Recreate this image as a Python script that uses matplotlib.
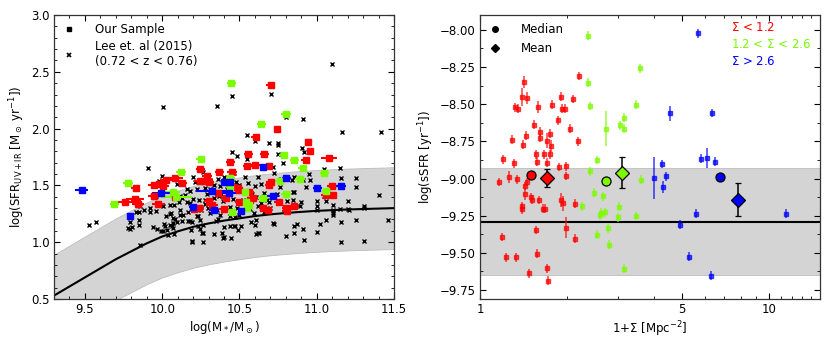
import numpy as np
import matplotlib
matplotlib.use("Agg")
import matplotlib.pyplot as plt
from matplotlib.ticker import AutoMinorLocator, FixedLocator, NullFormatter, ScalarFormatter
from matplotlib.lines import Line2D

plt.rcParams['font.family'] = ['DejaVu Sans']
plt.rcParams['font.size'] = 8.5
plt.rcParams['mathtext.default'] = 'regular'

# ---------------- Left panel data ----------------
# Main-sequence curve and band half-width
ms_x = [9.3, 9.4, 9.5, 9.6, 9.7, 9.8, 9.9, 10.0, 10.1, 10.2, 10.3, 10.4, 10.5,
        10.6, 10.7, 10.8, 10.9, 11.0, 11.2, 11.5]
ms_y = [0.53, 0.61, 0.69, 0.77, 0.85, 0.92, 0.99, 1.05, 1.095, 1.135, 1.165, 1.19,
        1.21, 1.23, 1.245, 1.257, 1.267, 1.276, 1.288, 1.30]
ms_scatter = 0.36

# Lee et al. (2015) galaxies
lee_x = [10.007, 9.911, 10.0, 9.98, 9.528, 9.572, 9.793, 9.778, 9.804, 9.852, 9.852, 9.924,
         9.92, 9.941, 9.967, 9.993, 10.007, 10.013, 10.02, 10.052, 10.076, 10.083, 10.065,
         10.039, 10.074, 9.854, 10.098, 10.196, 10.133, 10.163, 10.354, 10.45, 10.702, 11.1,
         10.911, 11.165, 11.415, 10.798, 10.552, 10.602, 10.693, 10.752, 10.752, 10.45, 10.485,
         10.752, 10.78, 10.72, 10.904, 10.917, 10.95, 11.152, 11.257, 11.257, 11.404, 11.202,
         11.152, 11.202, 11.304, 11.254, 11.46, 11.304, 11.157, 11.157, 11.104, 11.104, 11.061,
         11.024, 11.0, 10.919, 10.909, 10.854, 10.85, 10.804, 10.722, 10.848, 10.898, 11.004,
         11.004, 11.004, 11.048, 10.891, 10.846, 10.593, 10.604, 10.62, 10.61, 10.572, 10.507,
         10.491, 10.463, 10.448, 10.387, 10.393, 10.333, 10.263, 10.246, 10.23, 10.196, 10.187,
         10.165, 10.126, 10.115, 10.072, 10.05, 10.024, 10.028, 10.007, 9.959, 9.883, 9.854,
         9.852, 9.963, 10.117, 10.241, 10.548, 10.267, 10.202, 10.31, 10.402, 10.463, 10.539,
         10.62, 10.641, 10.722, 10.767, 10.554, 10.598, 10.5, 10.359, 10.372, 10.333, 10.274,
         10.224, 10.18, 10.148, 10.274, 10.333, 10.365, 10.393, 10.459, 10.524, 10.567, 10.61,
         10.637, 10.68, 10.62, 10.18, 10.213, 10.25, 10.296, 10.307, 10.354, 10.372, 10.115,
         10.057, 10.137, 10.072, 10.224, 10.246, 10.093, 10.05, 10.183, 10.267, 10.067, 10.257,
         10.437, 10.474, 10.402, 10.261, 10.191, 10.626, 10.72, 10.485, 11.05, 11.154, 11.154,
         10.957, 10.93, 10.909, 10.85, 10.843, 10.854, 11.057, 11.104, 11.207, 11.307, 10.807,
         10.854, 10.87, 11.104, 10.16, 10.29, 10.42, 10.44, 10.53, 10.57, 10.66, 10.69, 10.74,
         10.36, 10.32, 10.21, 10.13, 10.55, 10.5, 10.44, 10.28, 10.35, 10.4, 10.6, 10.66, 10.17,
         10.2, 10.38, 10.47, 9.79, 9.83, 10.11, 10.23, 10.31, 10.48, 10.58, 10.7, 10.76, 10.81]
lee_y = [2.194, 1.652, 1.587, 1.54, 1.154, 1.18, 1.177, 1.124, 1.13, 1.192, 1.154, 1.297,
         1.268, 1.133, 1.115, 1.1, 1.1, 1.16, 1.145, 1.327, 1.327, 1.203, 1.145,
         1.066, 1.075, 0.972, 1.508, 1.004, 1.534, 1.465, 2.203, 2.291, 2.305, 2.566,
         2.083, 1.974, 1.971, 2.1, 1.948, 1.889, 1.872, 1.877, 1.857, 1.798, 1.763,
         1.778, 1.696, 1.658, 1.825, 1.79, 1.596, 1.652, 1.561, 1.488, 1.418, 1.365,
         1.291, 1.291, 1.303, 1.195, 1.198, 1.013, 1.004, 1.177, 1.256, 1.285, 1.198,
         1.157, 1.09, 1.016, 1.115, 1.139, 1.08, 1.051, 1.162, 1.438, 1.353, 1.362,
         1.321, 1.28, 1.403, 1.321, 1.373, 1.256, 1.198, 1.08, 1.07, 1.174, 1.139,
         1.11, 1.139, 1.036, 1.08, 1.036, 1.07, 1.08, 1.115, 1.139, 1.18, 1.11,
         1.189, 1.189, 1.241, 1.168, 1.25, 1.233, 1.11, 1.32, 1.271, 1.28, 1.315,
         1.265, 1.406, 1.403, 1.373, 1.731, 1.614, 1.578, 1.549, 1.57, 1.608, 1.57,
         1.578, 1.514, 1.608, 1.558, 1.52, 1.496, 1.505, 1.558, 1.491, 1.505, 1.476,
         1.467, 1.447, 1.417, 1.373, 1.388, 1.403, 1.359, 1.379, 1.373, 1.359, 1.394,
         1.344, 1.373, 1.315, 1.344, 1.309, 1.286, 1.3, 1.256, 1.286, 1.241, 1.286,
         1.256, 1.241, 1.212, 1.227, 1.197, 1.174, 1.154, 1.183, 1.154, 1.124, 1.08,
         1.145, 1.139, 1.045, 1.0, 1.007, 1.08, 1.168, 1.3, 1.643, 1.564, 1.49,
         1.549, 1.49, 1.549, 1.578, 1.549, 1.438, 1.359, 1.324, 1.285, 1.315, 1.359,
         1.315, 1.162, 1.241, 1.35, 1.42, 1.47, 1.31, 1.45, 1.29, 1.43, 1.35, 1.42,
         1.2, 1.45, 1.53, 1.39, 1.32, 1.24, 1.23, 1.34, 1.19, 1.13, 1.15, 1.27, 1.27,
         1.38, 1.42, 1.22, 1.12, 1.27, 1.35, 1.23, 1.47, 1.53, 1.42, 1.3, 1.49, 1.43]

# Our sample, by density class (x, y, x-error)
red_m = [10.702, 10.746, 10.604, 10.946, 10.959, 10.557, 10.662, 11.080, 10.928, 10.441,
         10.6, 10.55, 10.689, 10.246, 10.37, 10.452, 10.29, 10.085, 10.026, 10.246, 10.27,
         10.304, 9.948, 9.98, 10.007, 9.828, 10.702, 10.693, 10.441, 10.489, 10.563, 10.085,
         9.946, 9.825, 9.759, 9.842, 9.976, 10.324, 10.30, 10.207, 10.24, 10.411, 10.5,
         10.589, 10.398, 10.654, 10.683, 10.754, 10.806, 10.854, 11.059, 11.104, 11.098,
         10.804, 9.83, 10.36, 10.57, 10.46, 10.50, 10.13]
red_sfr = [2.387, 1.998, 1.930, 1.886, 1.804, 1.778, 1.778, 1.743, 1.722, 1.702,
           1.681, 1.667, 1.667, 1.646, 1.622, 1.614, 1.587, 1.564, 1.546, 1.535, 1.54,
           1.526, 1.505, 1.514, 1.491, 1.476, 1.526, 1.502, 1.485, 1.476, 1.444, 1.397,
           1.409, 1.379, 1.35, 1.332, 1.338, 1.329, 1.359, 1.291, 1.30, 1.388, 1.356,
           1.385, 1.291, 1.297, 1.28, 1.356, 1.274, 1.321, 1.412, 1.412, 1.497,
           1.30, 1.36, 1.43, 1.37, 1.49, 1.46, 1.52]
red_merr = [0.03, 0.025, 0.03, 0.025, 0.025, 0.03, 0.03, 0.05, 0.03, 0.03,
            0.03, 0.03, 0.03, 0.03, 0.03, 0.03, 0.03, 0.05, 0.04, 0.04, 0.03,
            0.03, 0.04, 0.05, 0.04, 0.03, 0.03, 0.03, 0.03, 0.03, 0.03, 0.05,
            0.04, 0.06, 0.05, 0.04, 0.04, 0.04, 0.03, 0.03, 0.03, 0.03, 0.03,
            0.03, 0.03, 0.03, 0.03, 0.03, 0.03, 0.03, 0.03, 0.03, 0.03,
            0.03, 0.03, 0.04, 0.03, 0.03, 0.03, 0.03]

green_m = [9.691, 9.778, 10.067, 10.09, 10.122, 10.248, 10.448, 10.441, 10.454, 10.535,
           10.543, 10.548, 10.641, 10.652, 10.763, 10.785, 10.802, 10.802, 10.854, 10.891,
           10.909, 11.05, 11.061, 10.44, 10.56]
green_sfr = [1.338, 1.523, 1.438, 1.397, 1.622, 1.734, 2.405, 1.564, 1.265, 1.438,
             1.35, 1.297, 2.042, 1.385, 1.535, 1.769, 2.132, 1.423, 1.722, 1.552,
             1.649, 1.611, 1.447, 1.49, 1.33]
green_merr = [0.03, 0.03, 0.05, 0.1, 0.03, 0.03, 0.03, 0.03, 0.02, 0.03,
              0.02, 0.02, 0.03, 0.03, 0.03, 0.03, 0.03, 0.03, 0.03, 0.03,
              0.03, 0.03, 0.03, 0.03, 0.03]

blue_m = [9.478, 9.793, 9.993, 10.202, 10.32, 10.335, 10.4, 10.437, 10.43, 10.51,
          10.654, 10.715, 10.804, 11.003, 11.157]
blue_sfr = [1.458, 1.233, 1.432, 1.312, 1.453, 1.28, 1.526, 1.526, 1.432, 1.274,
            1.663, 1.405, 1.561, 1.473, 1.494]
blue_merr = [0.04, 0.01, 0.06, 0.03, 0.1, 0.03, 0.02, 0.02, 0.08, 0.02,
             0.02, 0.04, 0.03, 0.03, 0.03]

# ---------------- Right panel data ----------------
red_sig = [1.166, 1.204, 1.188, 1.23, 1.26, 1.288, 1.315, 1.328, 1.325, 1.358, 1.342, 1.393,
           1.42, 1.449, 1.409, 1.44, 1.431, 1.431, 1.393, 1.398, 1.458, 1.482, 1.50, 1.517,
           1.541, 1.558, 1.566, 1.57, 1.592, 1.608, 1.618, 1.60, 1.578, 1.664, 1.651, 1.68,
           1.701, 1.701, 1.701, 1.714, 1.747, 1.76, 1.747, 1.77, 1.867, 1.875, 1.902, 1.907,
           1.916, 1.937, 1.968, 1.978, 1.978, 1.985, 2.047, 2.103, 2.138, 2.132, 2.178, 2.194]
red_ssfr = [-9.023, -8.871, -9.393, -9.528, -8.99, -8.74, -8.897, -9.528, -8.52, -8.53, -9.005,
            -8.451, -8.348, -8.456, -8.773, -8.713, -9.05, -9.106, -9.185, -9.207, -9.023,
            -9.638, -9.124, -9.144, -8.639, -9.346, -8.838, -8.888, -8.516, -8.686, -8.727,
            -9.144, -9.505, -8.838, -9.203, -9.203, -8.745, -8.893, -9.602, -9.687, -8.698,
            -8.783, -8.837, -8.505, -8.608, -8.922, -8.449, -9.144, -8.53, -9.167, -8.53,
            -8.918, -8.983, -9.33, -8.664, -8.465, -9.169, -9.404, -8.749, -8.31]
red_ssfr_err = [0.03, 0.03, 0.03, 0.03, 0.04, 0.03, 0.03, 0.03, 0.03, 0.03, 0.03,
                0.06, 0.04, 0.04, 0.03, 0.03, 0.03, 0.04, 0.03, 0.03, 0.03,
                0.03, 0.03, 0.03, 0.03, 0.03, 0.03, 0.03, 0.04, 0.03, 0.03,
                0.03, 0.03, 0.03, 0.03, 0.03, 0.05, 0.03, 0.03, 0.03, 0.03,
                0.04, 0.03, 0.03, 0.03, 0.03, 0.03, 0.05, 0.03, 0.05, 0.03,
                0.03, 0.03, 0.07, 0.03, 0.03, 0.03, 0.03, 0.03, 0.03]

green_sig = [2.371, 2.371, 2.409, 2.396, 2.54, 2.473, 2.534, 2.248, 2.594, 2.625, 2.665, 2.70,
             2.736, 2.78, 2.787, 3.004, 3.016, 3.05, 3.157, 3.157, 3.157, 3.467, 3.475, 3.588,
             3.606]
green_ssfr = [-8.040, -8.354, -8.512, -8.951, -8.875, -9.095, -9.378, -9.185, -9.248, -9.23,
              -9.12, -9.226, -8.664, -9.333, -9.445, -9.259, -9.19, -8.642, -8.59, -8.664,
              -9.606, -8.503, -9.252, -8.258, -9.007]
green_ssfr_err = [0.03, 0.03, 0.03, 0.03, 0.03, 0.03, 0.03, 0.03, 0.03, 0.03, 0.03, 0.03,
                  0.12, 0.03, 0.03, 0.03, 0.03, 0.03, 0.03, 0.03, 0.03, 0.03, 0.03, 0.03,
                  0.03]

blue_sig = [4.0, 4.265, 4.306, 4.413, 4.557, 4.92, 5.27, 5.585, 5.69, 5.8, 6.1, 6.3, 6.37,
            6.52, 11.45]
blue_ssfr = [-8.998, -8.902, -9.054, -8.985, -8.561, -9.31, -9.526, -9.236, -8.022, -8.868,
             -8.862, -9.654, -8.559, -8.888, -9.236]
blue_ssfr_err = [0.14, 0.03, 0.04, 0.03, 0.05, 0.03, 0.03, 0.03, 0.03, 0.03, 0.07, 0.03,
                 0.03, 0.03, 0.03]

# Medians and means per class (red, green, blue)
median_sig = [1.501, 2.722, 6.79]
median_ssfr = [-8.978, -9.016, -8.989]
mean_sig = [1.706, 3.093, 7.79]
mean_ssfr = [-8.998, -8.960, -9.142]
mean_err = [0.06, 0.105, 0.11]

sequence_ssfr = -9.29
sequence_band = [-9.65, -8.93]

class_colors = ['#ff0000', '#7cfc00', '#0000ff']
class_labels = [r'$\Sigma$ < 1.2', r'1.2 < $\Sigma$ < 2.6', r'$\Sigma$ > 2.6']

# ---------------- Figure ----------------
fig = plt.figure(figsize=(8.3, 3.46), dpi=100)
axL = fig.add_axes([54/830, 1-299/346, 340/830, 284/346])
axR = fig.add_axes([480/830, 1-299/346, 340/830, 284/346])

band_col = '#d4d4d4'

# Left
mx = np.array(ms_x); my = np.array(ms_y)
axL.fill_between(mx, my - ms_scatter, my + ms_scatter, facecolor=band_col,
                 edgecolor='#bdbdbd', lw=0.6, zorder=1)
axL.plot(mx, my, color='black', lw=1.5, zorder=2)
axL.plot(lee_x, lee_y, ls='none', marker='x', ms=2.8, mew=1.0, color='black', zorder=3)
for xs, ys, xe, c in [(red_m, red_sfr, red_merr, class_colors[0]),
                      (green_m, green_sfr, green_merr, class_colors[1]),
                      (blue_m, blue_sfr, blue_merr, class_colors[2])]:
    axL.errorbar(xs, ys, xerr=xe, fmt='s', ms=3.8, color=c, ecolor=c,
                 elinewidth=1.5, capsize=0, zorder=4)

axL.set_xlim(9.3, 11.5)
axL.set_ylim(0.5, 3.0)
axL.set_xticks([9.5, 10.0, 10.5, 11.0, 11.5])
axL.set_yticks([0.5, 1.0, 1.5, 2.0, 2.5, 3.0])
axL.xaxis.set_minor_locator(AutoMinorLocator(5))
axL.yaxis.set_minor_locator(AutoMinorLocator(5))
axL.set_xlabel(r'log(M$_*$/M$_\odot$)', labelpad=2)
axL.set_ylabel(r'log(SFR$_{\rm UV+IR}$ [M$_\odot$ yr$^{-1}$])', labelpad=3)

hL = [Line2D([], [], ls='none', marker='s', ms=3.5, color='black'),
      Line2D([], [], ls='none', marker='x', ms=3, mew=1.2, color='black')]
axL.legend(hL, ['Our Sample', 'Lee et. al (2015)\n(0.72 < z < 0.76)'], loc='upper left',
           frameon=False, handlelength=1.2, handletextpad=1.6, borderaxespad=0.3,
           labelspacing=0.3, fontsize=8.5)

# Right
axR.axhspan(sequence_band[0], sequence_band[1], facecolor=band_col, edgecolor='#bdbdbd',
            lw=0.6, zorder=1)
axR.axhline(sequence_ssfr, color='black', lw=1.5, zorder=2)
for xs, ys, ye, c in [(red_sig, red_ssfr, red_ssfr_err, class_colors[0]),
                      (green_sig, green_ssfr, green_ssfr_err, class_colors[1]),
                      (blue_sig, blue_ssfr, blue_ssfr_err, class_colors[2])]:
    axR.errorbar(xs, ys, yerr=ye, fmt='s', ms=2.8, color=c, ecolor=c, alpha=0.7,
                 elinewidth=1.2, capsize=0, zorder=3)
for i in range(3):
    axR.plot(median_sig[i], median_ssfr[i], marker='o', ms=6.5, mfc=class_colors[i],
             mec='black', mew=0.9, ls='none', zorder=5)
    axR.errorbar(mean_sig[i], mean_ssfr[i], yerr=mean_err[i], fmt='D', ms=7,
                 mfc=class_colors[i], mec='black', mew=0.9, ecolor='black',
                 elinewidth=1.1, capsize=2.5, capthick=1.1, zorder=5)

axR.set_xscale('log')
axR.set_xlim(1, 15)
axR.set_ylim(-9.81, -7.9)
axR.xaxis.set_major_locator(FixedLocator([1, 5, 10]))
axR.xaxis.set_major_formatter(ScalarFormatter())
axR.xaxis.set_minor_locator(FixedLocator([2, 3, 4, 6, 7, 8, 9, 11, 12, 13, 14]))
axR.xaxis.set_minor_formatter(NullFormatter())
axR.set_yticks([-9.75, -9.5, -9.25, -9.0, -8.75, -8.5, -8.25, -8.0])
axR.yaxis.set_minor_locator(AutoMinorLocator(2))
axR.set_xlabel(r'1+$\Sigma$ [Mpc$^{-2}$]', labelpad=2)
axR.set_ylabel(r'log(sSFR [yr$^{-1}$])', labelpad=3)

hR = [Line2D([], [], ls='none', marker='o', ms=4, color='black'),
      Line2D([], [], ls='none', marker='D', ms=4, color='black')]
axR.legend(hR, ['Median', 'Mean'], loc='upper left', frameon=False, handlelength=1.2,
           handletextpad=1.6, borderaxespad=0.3, labelspacing=0.5, fontsize=8.5)
for i in range(3):
    axR.text(0.737, 0.955 - i * 0.06, class_labels[i], color=class_colors[i],
             transform=axR.transAxes, ha='left', va='center', fontsize=8.5)

for ax in (axL, axR):
    ax.tick_params(which='both', direction='in', top=True, right=True, labelsize=8.5)
    ax.tick_params(which='major', length=4, width=0.8, pad=3)
    ax.tick_params(which='minor', length=2, width=0.6)
    for s in ax.spines.values():
        s.set_linewidth(0.9)
        s.set_color('#333333')

fig.savefig('out.png', dpi=100)
